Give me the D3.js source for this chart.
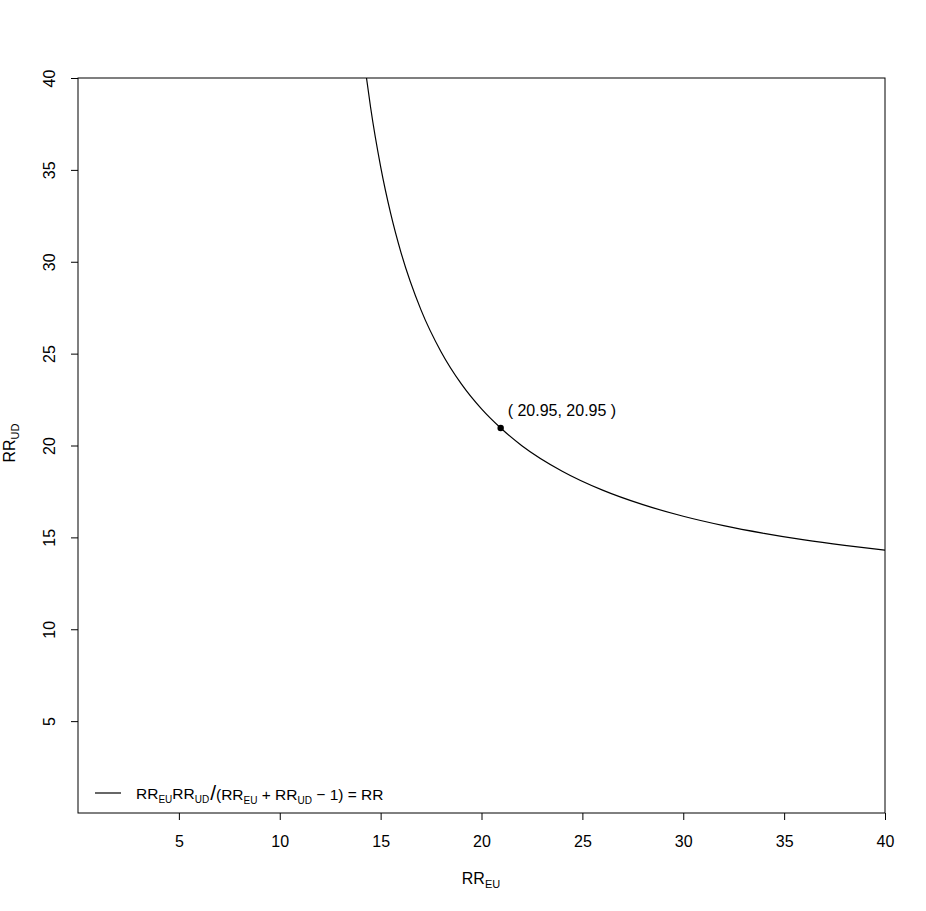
<!DOCTYPE html>
<html><head><meta charset="utf-8">
<script src="https://cdn.jsdelivr.net/npm/d3@7"></script>
<style>body{margin:0;background:#fff}svg{display:block;font-family:"Liberation Sans",Arial,sans-serif}</style>
</head><body>
<svg id="c" width="926" height="911"></svg>
<script>
// curve points (RR_EU, RR_UD)
const curveX = [14.3,14.5,15,15.5,16,17,18,19,20,20.95,22,24,26,28,30,32,34,36,38,40];
const curveY = [40.0,38.42,35.18,32.62,30.54,27.38,25.09,23.35,21.99,20.95,19.99,18.60,17.57,16.78,16.15,15.64,15.22,14.86,14.56,14.30];
const pointX = [20.95];
const pointY = [20.95];
const xTicks = [5,10,15,20,25,30,35,40];
const yTicks = [5,10,15,20,25,30,35,40];

const svg = d3.select("#c");
const L=78, R=885, T=78, B=813;
const FS=16;
const x = d3.scaleLinear().domain([0,40]).range([L,R]);
const y = d3.scaleLinear().domain([0,40]).range([B,T]);

svg.append("rect").attr("x",L).attr("y",T).attr("width",R-L).attr("height",B-T)
  .attr("fill","none").attr("stroke","#000").attr("stroke-width",1);

const xa = svg.append("g").attr("transform",`translate(0,${B})`)
  .call(d3.axisBottom(x).tickValues(xTicks).tickSize(7).tickPadding(16).tickFormat(d3.format("d")));
xa.select(".domain").remove();
xa.selectAll("text").attr("font-size",FS).attr("font-family","Liberation Sans, Arial, sans-serif").attr("fill","#000");

const ya = svg.append("g").attr("transform",`translate(${L},0)`)
  .call(d3.axisLeft(y).tickValues(yTicks).tickSize(7).tickFormat(d3.format("d")));
ya.select(".domain").remove();
ya.selectAll(".tick text").remove();
ya.selectAll(".tick").append("text")
  .attr("transform","translate(-23,0) rotate(-90)")
  .attr("text-anchor","middle").attr("font-size",FS).attr("fill","#000")
  .text(d=>d);

const pts = curveX.map((v,i)=>[v,curveY[i]]);
svg.append("path").datum(pts)
  .attr("d",d3.line().x(d=>x(d[0])).y(d=>y(d[1])).curve(d3.curveMonotoneX))
  .attr("fill","none").attr("stroke","#000").attr("stroke-width",1.2);

svg.selectAll("circle.p").data(pointX).enter().append("circle")
  .attr("cx",(d,i)=>x(d)).attr("cy",(d,i)=>y(pointY[i])).attr("r",3.2).attr("fill","#000");

svg.selectAll("text.pl").data(pointX).enter().append("text")
  .attr("x",(d,i)=>x(d)+7).attr("y",(d,i)=>y(pointY[i])-12)
  .attr("font-size",FS).attr("fill","#000")
  .text((d,i)=>`( ${d.toFixed(2)}, ${pointY[i].toFixed(2)} )`);

// axis titles
const xt = svg.append("text").attr("x",481).attr("y",884).attr("text-anchor","middle").attr("font-size",FS);
xt.append("tspan").text("RR");
xt.append("tspan").attr("font-size",11).attr("dy",4).text("EU");

const yt = svg.append("text").attr("transform","translate(15,443) rotate(-90)").attr("text-anchor","middle").attr("font-size",FS);
yt.append("tspan").text("RR");
yt.append("tspan").attr("font-size",11).attr("dy",4).text("UD");

// legend
svg.append("line").attr("x1",95).attr("x2",121).attr("y1",793).attr("y2",793).attr("stroke","#000").attr("stroke-width",1.2);
const lg = svg.append("text").attr("x",136).attr("y",799).attr("font-size",15.5);
const parts = [["RR",0],["EU",1],["RR",0],["UD",1],["/",2],["(RR",0],["EU",1],[" + RR",0],["UD",1],[" \u2212 1) = RR",0]];
let prevSub=false;
parts.forEach(([t,k])=>{
  const s = lg.append("tspan").text(t);
  if(k===1){s.attr("font-size",10).attr("dy",4);prevSub=true;}
  else if(k===2){s.attr("font-size",21).attr("dy",prevSub?-3:0).attr("dx",1);prevSub=false; lg.append("tspan").attr("dy",-1).text("");}
  else {if(prevSub){s.attr("dy",-4);} prevSub=false;}
});
</script>
</body></html>
